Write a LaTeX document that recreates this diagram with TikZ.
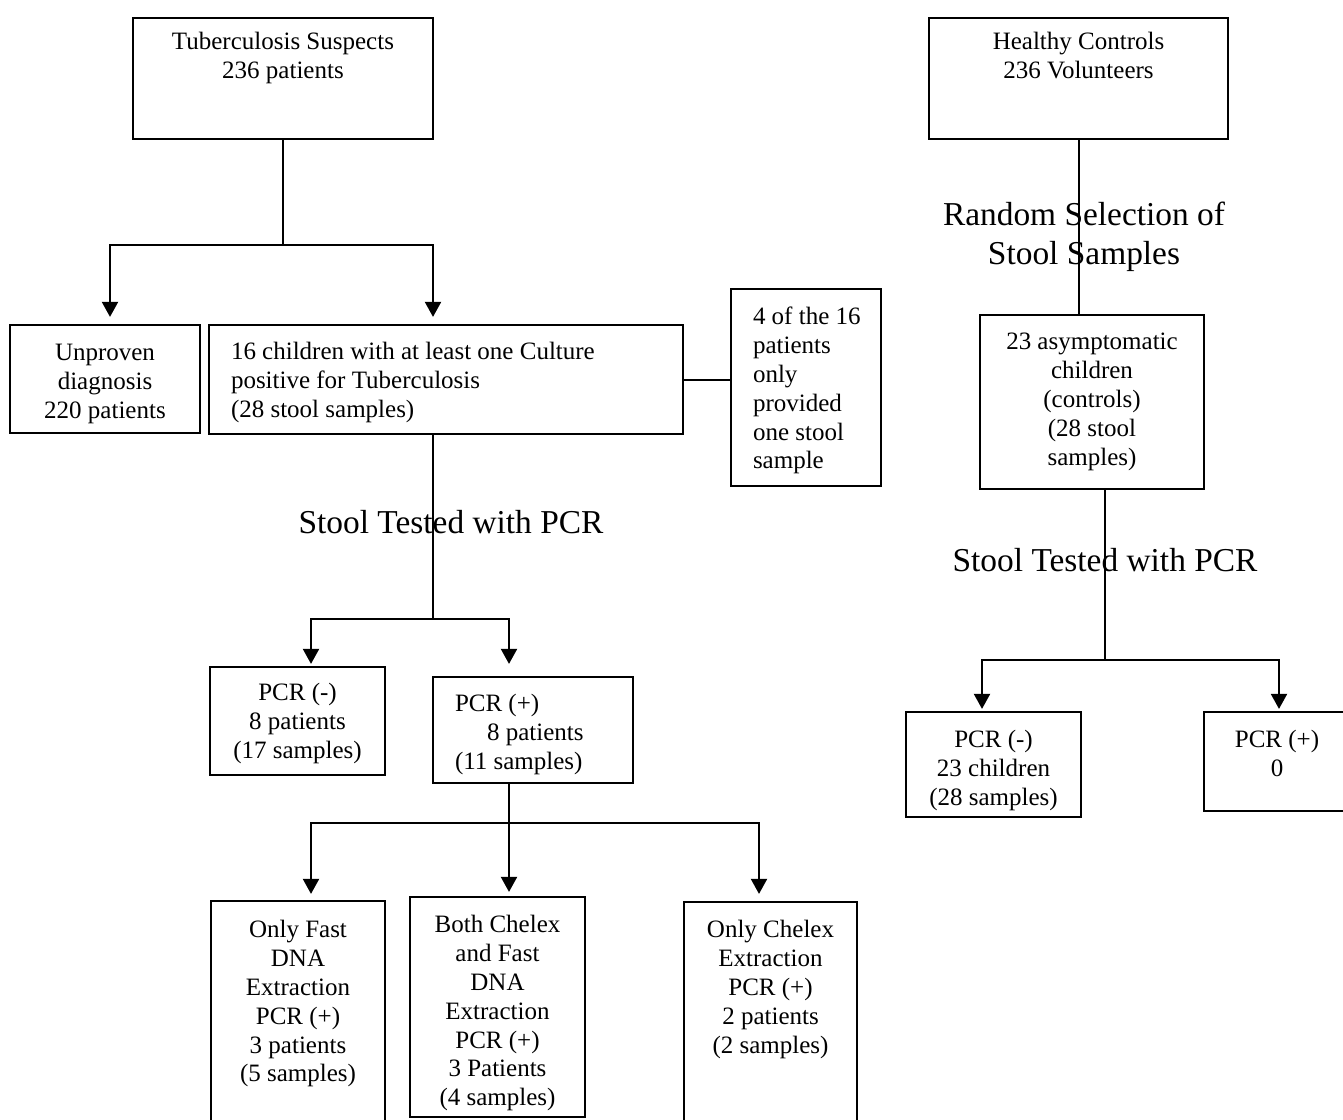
\documentclass[tikz,border=0pt]{standalone}
\usepackage{fontspec}
\setmainfont{Liberation Serif}
\usetikzlibrary{arrows.meta}
\newcommand\cbox[4]{\parbox[c][#2][t]{#1}{\centering\vspace*{#3}\strut #4\par}}
\newcommand\lbox[4]{\parbox[c][#2][t]{#1}{\raggedright\leftskip=11pt\vspace*{#3}\strut #4\par}}
\begin{document}
\begin{tikzpicture}[x=0.5pt,y=-0.5pt,
  box/.style={draw,line width=1.1pt,inner sep=0pt,font=\fontsize{12.5}{14.4}\selectfont},
  conn/.style={line width=1pt},
  arr/.style={conn,-{Triangle[width=8pt,length=7.5pt]}},
  big/.style={font=\fontsize{16.7}{19.5}\selectfont,align=center,inner sep=0pt}]
\useasboundingbox (0,0) rectangle (1343,1119);

% boxes
\node[box] (tb) at (283,78.5) {\cbox{150pt}{60.5pt}{5.9pt}{Tuberculosis Suspects\\236 patients}};
\node[box] (hc) at (1078.5,78.5) {\cbox{149.5pt}{60.5pt}{5.9pt}{Healthy Controls\\236 Volunteers}};
\node[box] (un) at (105,379) {\cbox{95pt}{54pt}{7.9pt}{Unproven\\diagnosis\\220 patients}};
\node[box] (c16) at (446,379.5) {\lbox{237pt}{54.5pt}{7.4pt}{16 children with at least one Culture\\positive for Tuberculosis\\(28 stool samples)}};
\node[box] (four) at (806,387.5) {\lbox{75pt}{98.5pt}{7.9pt}{4 of the 16\\patients\\only\\provided\\one stool\\sample}};
\node[box] (as) at (1092,402) {\cbox{112pt}{87pt}{7.4pt}{23 asymptomatic\\children\\(controls)\\(28 stool\\samples)}};
\node[box] (pn) at (297.5,721) {\cbox{87.5pt}{54pt}{6.9pt}{PCR (-)\\8 patients\\(17 samples)}};
\node[box] (pp) at (533,730) {\lbox{100pt}{53pt}{7.4pt}{PCR (+)\\\hspace*{16pt}8 patients\\(11 samples)}};
\node[box] (fd) at (298,1011) {\cbox{87pt}{110pt}{8.4pt}{Only Fast\\DNA\\Extraction\\PCR (+)\\3 patients\\(5 samples)}};
\node[box] (bc) at (497.5,1007) {\cbox{87.5pt}{110pt}{7.9pt}{Both Chelex\\and Fast\\DNA\\Extraction\\PCR (+)\\3 Patients\\(4 samples)}};
\node[box] (oc) at (770.5,1011.5) {\cbox{86.5pt}{109.5pt}{7.9pt}{Only Chelex\\Extraction\\PCR (+)\\2 patients\\(2 samples)}};
\node[box] (rn) at (993.5,764.5) {\cbox{87.5pt}{52.5pt}{7.9pt}{PCR (-)\\23 children\\(28 samples)}};
\node[box] (rp) at (1277,761.5) {\cbox{73pt}{49.5pt}{7.9pt}{PCR (+)\\0}};

% big labels
\node[big] (rs) at (1084,237) {Random Selection of\\Stool Samples};
\node[big] (st1) at (451,522) {Stool Tested with PCR};
\node[big] (st2) at (1105,560) {Stool Tested with PCR};

% junction coordinates
\coordinate (j1) at (283,245);
\coordinate (a1l) at (110,245);
\coordinate (a1r) at (433,245);
\coordinate (j2) at (433,619);
\coordinate (a2l) at (311,619);
\coordinate (a2r) at (509,619);
\coordinate (j3) at (509,823);
\coordinate (a3l) at (311,823);
\coordinate (a3r) at (759,823);
\coordinate (j4) at (1105,660);
\coordinate (a4l) at (982,660);
\coordinate (a4r) at (1279,660);

% connectors left
\draw[conn] (tb.south) -- (j1);
\draw[arr,shorten >=3.5pt] (j1) -| (a1l |- un.north);
\draw[arr,shorten >=3.5pt] (j1) -| (a1r |- c16.north);
\draw[conn] (c16.east) -- (c16.east -| four.west);
\draw[conn] (j2 |- c16.south) -- (j2);
\draw[arr,shorten >=1pt] (j2) -| (a2l |- pn.north);
\draw[arr,shorten >=6pt] (j2) -| (a2r |- pp.north);
\draw[arr,shorten >=2pt] (j3 |- pp.south) -- (j3 |- bc.north);
\draw[arr,shorten >=3pt] (j3) -| (a3l |- fd.north);
\draw[arr,shorten >=3.5pt] (j3) -| (a3r |- oc.north);

% connectors right
\draw[conn] (hc.south) -- (hc.south |- as.north);
\draw[conn] (j4 |- as.south) -- (j4);
\draw[arr,shorten >=1pt] (j4) -| (a4l |- rn.north);
\draw[arr,shorten >=1pt] (j4) -| (a4r |- rp.north);
\end{tikzpicture}
\end{document}
